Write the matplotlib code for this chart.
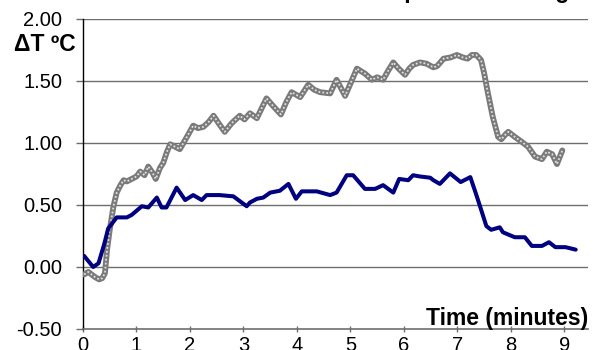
import matplotlib
matplotlib.use("Agg")
import matplotlib.pyplot as plt

plt.rcParams['font.family'] = ['Liberation Sans', 'DejaVu Sans']

# Blue series (time in minutes, delta T in C)
blue_t = [0.02, 0.19, 0.29, 0.40, 0.47, 0.63, 0.82, 0.91, 1.10, 1.22, 1.38, 1.47, 1.56,
          1.75, 1.91, 2.06, 2.22, 2.31, 2.55, 2.81, 3.06, 3.12, 3.25, 3.37, 3.50, 3.68,
          3.84, 3.98, 4.09, 4.37, 4.62, 4.74, 4.93, 5.05, 5.27, 5.46, 5.61, 5.80, 5.91,
          6.08, 6.17, 6.30, 6.49, 6.55, 6.67, 6.86, 7.06, 7.24, 7.35, 7.44, 7.54, 7.63,
          7.79, 7.85, 8.07, 8.26, 8.39, 8.58, 8.71, 8.83, 9.02, 9.21]
blue_v = [0.09, 0.00, 0.03, 0.19, 0.31, 0.40, 0.40, 0.42, 0.49, 0.48, 0.56, 0.48, 0.48,
          0.64, 0.54, 0.58, 0.54, 0.58, 0.58, 0.57, 0.49, 0.52, 0.55, 0.56, 0.60, 0.615,
          0.67, 0.55, 0.61, 0.61, 0.58, 0.60, 0.74, 0.74, 0.63, 0.63, 0.66, 0.60, 0.71,
          0.70, 0.74, 0.73, 0.72, 0.70, 0.67, 0.755, 0.685, 0.725, 0.585, 0.465, 0.33, 0.30,
          0.32, 0.28, 0.24, 0.24, 0.17, 0.17, 0.20, 0.16, 0.16, 0.14]

# Grey series
grey_t = [0.02, 0.10, 0.16, 0.22, 0.30, 0.36, 0.41, 0.45, 0.50, 0.57, 0.63, 0.70, 0.76,
          0.82, 0.91, 1.00, 1.07, 1.15, 1.22, 1.30, 1.36, 1.44, 1.50, 1.57, 1.63, 1.72,
          1.81, 1.93, 2.06, 2.15, 2.25, 2.35, 2.44, 2.55, 2.65, 2.78, 2.93, 3.02, 3.12,
          3.25, 3.43, 3.55, 3.70, 3.80, 3.90, 4.06, 4.21, 4.32, 4.43, 4.62, 4.74, 4.90,
          5.00, 5.12, 5.27, 5.40, 5.50, 5.61, 5.70, 5.80, 5.90, 6.02, 6.10, 6.17, 6.30,
          6.42, 6.55, 6.62, 6.74, 6.87, 6.99, 7.10, 7.19, 7.27, 7.35, 7.44, 7.50, 7.57,
          7.66, 7.76, 7.82, 7.90, 7.95, 8.07, 8.20, 8.32, 8.45, 8.58, 8.67, 8.77, 8.86,
          8.96]
grey_v = [-0.06, -0.04, -0.06, -0.08, -0.10, -0.09, -0.05, 0.14, 0.30, 0.49, 0.60, 0.66, 0.70,
          0.69, 0.71, 0.73, 0.77, 0.74, 0.81, 0.76, 0.71, 0.80, 0.84, 0.93, 0.99, 0.97,
          0.95, 1.04, 1.14, 1.12, 1.13, 1.17, 1.22, 1.15, 1.09, 1.16, 1.22, 1.19, 1.24,
          1.20, 1.36, 1.30, 1.23, 1.33, 1.41, 1.37, 1.47, 1.43, 1.41, 1.40, 1.51, 1.38,
          1.48, 1.60, 1.56, 1.51, 1.53, 1.51, 1.58, 1.65, 1.60, 1.55, 1.60, 1.63, 1.65,
          1.64, 1.61, 1.62, 1.68, 1.69, 1.71, 1.69, 1.68, 1.71, 1.71, 1.67, 1.56, 1.40,
          1.21, 1.05, 1.03, 1.07, 1.09, 1.05, 1.01, 0.97, 0.89, 0.87, 0.93, 0.91, 0.83,
          0.94]

y_ticks = [-0.5, 0.0, 0.5, 1.0, 1.5, 2.0]
y_labels = ["-0.50", "0.00", "0.50", "1.00", "1.50", "2.00"]
x_ticks = list(range(10))

fig = plt.figure(figsize=(6.03, 3.50), dpi=100)
ax = fig.add_axes([83/603, 1-329/350, (588-83)/603, (329-19)/350])

for yv in y_ticks[1:]:
    ax.axhline(yv, color='#6e6e6e', lw=1.0, zorder=1)

ax.plot(grey_t, grey_v, color='#7a7a7a', lw=4.2, solid_joinstyle='round',
        solid_capstyle='round', zorder=3)
ax.plot(grey_t, grey_v, color='#e0e0e0', lw=1.3, ls=(0, (1, 1.2)), zorder=4)
ax.plot(blue_t, blue_v, color='#000080', lw=2.9, solid_joinstyle='round',
        solid_capstyle='round', zorder=5)

ax.set_xlim(0, 9.44)
ax.set_ylim(-0.5, 2.0)
ax.set_yticks(y_ticks)
ax.set_yticklabels(y_labels)
ax.set_xticks(x_ticks)

for s in ['top', 'right']:
    ax.spines[s].set_visible(False)
ax.spines['left'].set_color('black')
ax.spines['left'].set_linewidth(1.0)
ax.spines['bottom'].set_color('#6e6e6e')
ax.spines['bottom'].set_linewidth(1.2)

ax.tick_params(axis='y', direction='out', length=5, width=1, color='#6e6e6e',
               labelsize=14.5, pad=10)
ax.tick_params(axis='x', direction='inout', length=4, width=1, color='#6e6e6e',
               labelsize=14.5, pad=3)

ax.text(1.0, 0.013, "Time (minutes)", transform=ax.transAxes, ha='right',
        va='baseline', fontsize=16.5, fontweight='bold')
fig.text(76/603, 1-51/350, "\u0394T \u00baC", ha='right', va='baseline',
         fontsize=16.5, fontweight='bold')
fig.text(582/603, 1+2/350, "Temperature change", ha='right', va='baseline',
         fontsize=16.5, fontweight='bold')

fig.savefig("out.png", dpi=100)
